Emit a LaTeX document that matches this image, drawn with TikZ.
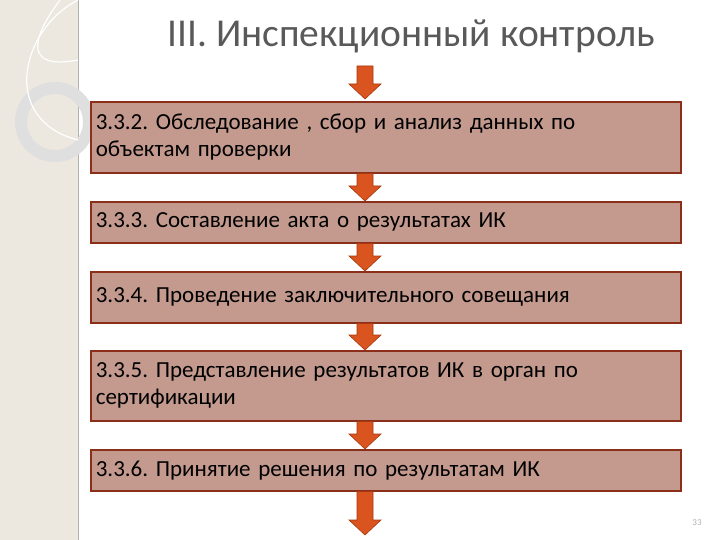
\documentclass[tikz,border=0pt]{standalone}
\usepackage{fontspec}
\setmainfont{Carlito}
\frenchspacing
\usetikzlibrary{calc}
\definecolor{boxfill}{HTML}{C49A8E}
\definecolor{boxline}{HTML}{8B2E1A}
\definecolor{arrfill}{HTML}{D9541E}
\definecolor{arrline}{HTML}{A8380F}
\definecolor{strip}{HTML}{ECE8DF}
\tikzset{
  stepbox/.style={draw=boxline, line width=1.6pt, fill=boxfill, anchor=north west,
    minimum width=588pt, text width=580pt, inner xsep=5pt, inner ysep=2pt, align=left,
    font=\fontsize{23}{27}\selectfont, text=black},
  arr/.style={fill=arrfill, draw=arrline, line width=0.6pt}
}
\newcommand\barrow[2]{\path[arr] let \p1=(#1), \p2=(#2) in
  (\x1-8pt,\y1) -- (\x1+8pt,\y1) -- (\x1+8pt,\y2+15pt) -- (\x1+16pt,\y2+15pt) -- (\x1,\y2)
  -- (\x1-16pt,\y2+15pt) -- (\x1-8pt,\y2+15pt) -- cycle;}
\begin{document}
\begin{tikzpicture}[x=1pt,y=-1pt]
\useasboundingbox (0,0) rectangle (720,540);
\fill[white] (0,0) rectangle (720,540);
% left strip
\fill[strip] (0,0) rectangle (78,540);
\draw[gray!60, line width=1pt] (78,0) -- (78,540);
\draw[gray!25, line width=12pt] (55,122) circle (34);
\draw[white, line width=1.2pt] (78,0) .. controls (20,30) and (0,120) .. (78,140);
\draw[white, line width=1.2pt] (60,0) .. controls (30,40) and (25,70) .. (78,60);
% title
\node (title) at (411,36) {\fontsize{39.5}{44}\selectfont\color[HTML]{595959}III. Инспекционный контроль};
% boxes
\node[stepbox, minimum height=71pt] (b1) at (90,101) {3.3.2. Обследование , сбор и анализ данных по\\объектам проверки};
\node[stepbox, minimum height=41pt] (b2) at (90,201) {3.3.3. Составление акта о результатах ИК};
\node[stepbox, minimum height=51pt] (b3) at (90,271) {3.3.4. Проведение заключительного совещания};
\node[stepbox, minimum height=70pt] (b4) at (90,350) {3.3.5. Представление результатов ИК в орган по\\сертификации};
\node[stepbox, minimum height=41pt] (b5) at (90,449) {3.3.6. Принятие решения по результатам ИК};
\coordinate (a0) at (365,66);
\coordinate (a0e) at (365,99);
\coordinate (endc) at (365,535);
\barrow{a0}{a0e}
\barrow{b1.south -| a0}{b2.north -| a0}
\barrow{b2.south -| a0}{b3.north -| a0}
\barrow{b3.south -| a0}{b4.north -| a0}
\barrow{b4.south -| a0}{b5.north -| a0}
\barrow{b5.south -| a0}{endc}
\node[text=gray!60, font=\fontsize{9}{10}\selectfont] (pg) at (697,523) {33};
\end{tikzpicture}
\end{document}
